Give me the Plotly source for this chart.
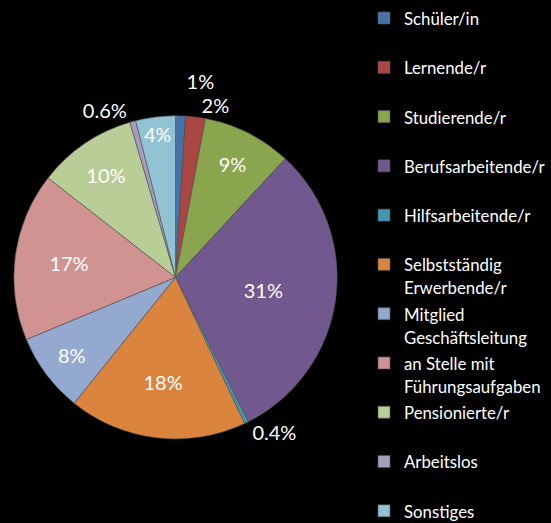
import plotly.graph_objects as go

# ---- data ----
categories = [
    "Schüler/in",
    "Lernende/r",
    "Studierende/r",
    "Berufsarbeitende/r",
    "Hilfsarbeitende/r",
    "Selbstständig<br>Erwerbende/r",
    "Mitglied<br>Geschäftsleitung",
    "an Stelle mit<br>Führungsaufgaben",
    "Pensionierte/r",
    "Arbeitslos",
    "Sonstiges",
]
shares = [1, 2, 9, 31, 0.4, 18, 8, 17, 10, 0.6, 4]
share_labels = [f"{v:g}%" for v in shares]

# ---- style ----
colors = ["#4572A7", "#AA4643", "#89A54E", "#71588F", "#4198AF", "#DB843D",
          "#93A9CF", "#D19392", "#B9CD96", "#A99BBD", "#92C3D4"]
label_positions = ["outside", "outside", "inside", "inside", "outside", "inside",
                   "inside", "inside", "inside", "outside", "inside"]
FONT = "Lato, 'Open Sans', sans-serif"
LEGEND_TEXT_PX = 16.8


def legend_label(name):
    # every legend entry occupies two lines, as in the original
    lines = name.split("<br>")
    if len(lines) == 1:
        lines.append(" ")
    return "<br>".join(
        f'<span style="font-size:{LEGEND_TEXT_PX}px">{ln}</span>' for ln in lines
    )


legend_labels = [legend_label(c) for c in categories]

W, H = 551, 523
cx, cy, r = 175.5, 274.5, 163.5

fig = go.Figure(
    go.Pie(
        labels=legend_labels,
        values=shares,
        text=share_labels,
        textinfo="text",
        textposition=label_positions,
        insidetextorientation="horizontal",
        textfont=dict(family=FONT, size=20, color="white"),
        outsidetextfont=dict(family=FONT, size=20, color=["white"] * len(shares)),
        marker=dict(colors=colors, line=dict(color="#555555", width=0.6)),
        sort=False,
        direction="clockwise",
        rotation=0,
        hoverinfo="percent",
        domain=dict(x=[(cx - r) / W, (cx + r) / W],
                    y=[(H - cy - r) / H, (H - cy + r) / H]),
    )
)

fig.update_layout(
    width=W,
    height=H,
    margin=dict(l=0, r=0, t=0, b=0),
    paper_bgcolor="black",
    plot_bgcolor="black",
    showlegend=True,
    legend=dict(
        x=364 / W,
        y=1.0117,
        xanchor="left",
        yanchor="top",
        valign="top",
        maxheight=600,
        bgcolor="rgba(0,0,0,0)",
        font=dict(family=FONT, size=17.8, color="white"),
    ),
)

fig.write_html(
    "out.html",
    config={"displayModeBar": False},
    post_script="document.body.style.margin='0';",
)
